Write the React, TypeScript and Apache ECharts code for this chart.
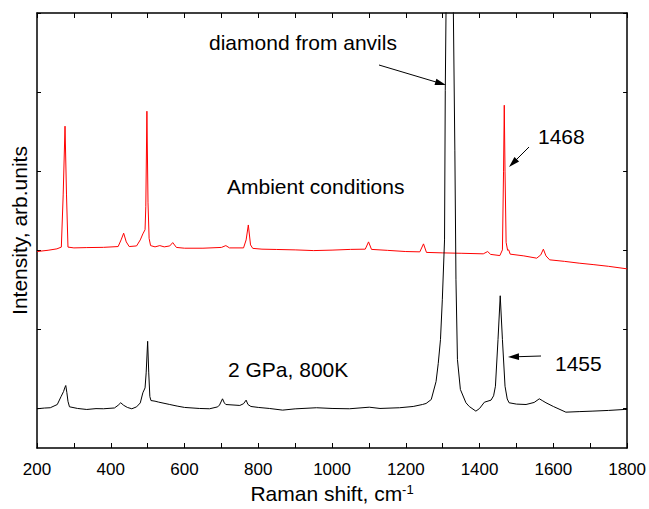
import React, { useEffect, useRef } from "react";
import * as echarts from "echarts";

// Raman shift (cm^-1) and intensity (arb. units, 1000 per y tick) — ambient conditions (red)
const ambientShift = [200, 230, 254, 266, 271, 276, 280, 284, 300, 335, 380, 420, 428, 435, 442, 450, 470, 480, 487, 493, 495, 498, 501, 504, 508, 520, 533, 545, 560, 568, 578, 600, 650, 700, 712, 722, 760, 767, 773, 779, 785, 810, 850, 900, 950, 1000, 1050, 1090, 1099, 1107, 1150, 1200, 1238, 1248, 1256, 1300, 1350, 1410, 1422, 1430, 1455, 1462, 1465, 1467, 1469, 1472, 1476, 1479, 1483, 1520, 1555, 1566, 1573, 1580, 1590, 1630, 1670, 1710, 1750, 1800];
const ambientIntensity = [1984, 2000, 2018, 2040, 2700, 3569, 2700, 2040, 2030, 2034, 2037, 2047, 2131, 2216, 2106, 2047, 2055, 2131, 2207, 2260, 2550, 3758, 2600, 2150, 2059, 2043, 2059, 2043, 2055, 2097, 2036, 2026, 2026, 2036, 2059, 2030, 2030, 2131, 2320, 2068, 2024, 2014, 2010, 2005, 1996, 2002, 2011, 2014, 2106, 2011, 1999, 1984, 1980, 2081, 1973, 1967, 1962, 1955, 1984, 1948, 1933, 2005, 3000, 3834, 3000, 2100, 2000, 2005, 1951, 1929, 1900, 1942, 2014, 1929, 1879, 1860, 1837, 1818, 1797, 1765];

// 2 GPa, 800 K (black)
const highShift = [200, 220, 236, 255, 265, 272, 276, 278, 281, 284, 288, 310, 335, 360, 380, 410, 420, 427, 435, 445, 457, 470, 480, 487, 493, 496, 500, 503, 506, 509, 520, 530, 560, 580, 600, 640, 668, 690, 695, 703, 708, 712, 750, 760, 767, 772, 780, 800, 830, 866, 900, 958, 1000, 1047, 1101, 1130, 1183, 1220, 1245, 1255, 1269, 1282, 1288, 1294, 1299, 1305, 1307, 1309, 1319, 1329, 1333, 1336, 1340, 1348, 1363, 1372, 1390, 1400, 1413, 1431, 1438, 1443, 1450, 1456, 1462, 1469, 1475, 1480, 1500, 1526, 1548, 1562, 1570, 1580, 1600, 1634, 1670, 1705, 1750, 1792, 1800];
const highIntensity = [-4, 5, 9, 50, 148, 214, 270, 290, 200, 90, 21, 0, -13, -2, -4, 6, 40, 72, 40, 13, -4, 20, 70, 198, 260, 450, 849, 450, 150, 100, 92, 80, 50, 30, 13, 0, -4, 20, 44, 122, 70, 50, 38, 60, 105, 50, 25, 13, 0, -21, -5, 9, 0, -4, 16, 0, 9, 25, 50, 63, 113, 340, 570, 870, 1374, 2131, 4023, 4994, 15000, 4994, 3266, 1627, 618, 240, 72, 25, -34, 0, 79, 105, 160, 281, 870, 1425, 870, 281, 120, 72, 55, 50, 76, 122, 100, 72, 25, -47, -40, -34, -25, -13, -13];

const xLabelTicks = [200, 400, 600, 800, 1000, 1200, 1400, 1600, 1800];
const yTickValues = [0, 1000, 2000, 3000, 4000, 5000];

const FONT = "'Liberation Sans', Arial, Helvetica, sans-serif";

function arrow(x1: number, y1: number, x2: number, y2: number) {
  const dx = x2 - x1, dy = y2 - y1;
  const len = Math.hypot(dx, dy);
  const ux = dx / len, uy = dy / len;
  const nx = -uy, ny = ux;
  const L = 11, W = 3.3;
  const bx = x2 - L * ux, by = y2 - L * uy;
  return [
    { type: "line", shape: { x1, y1, x2: bx + ux * 2, y2: by + uy * 2 }, style: { stroke: "#000", lineWidth: 1 }, silent: true },
    { type: "polygon", shape: { points: [[x2, y2], [bx + W * nx, by + W * ny], [bx - W * nx, by - W * ny]] }, style: { fill: "#000" }, silent: true },
  ];
}

function label(text: string, x: number, y: number) {
  return {
    type: "text",
    x,
    y,
    silent: true,
    style: {
      text,
      fill: "#000",
      fontSize: 21,
      fontFamily: FONT,
      align: "left",
      verticalAlign: "middle",
      textAlign: "left",
      textVerticalAlign: "middle",
    },
  };
}

export default function App() {
  const ref = useRef<HTMLDivElement>(null);
  useEffect(() => {
    document.body.style.margin = "0";
    if (!ref.current) return;
    const chart = echarts.init(ref.current, undefined, { renderer: "svg" });
    const axisLine = { show: true, onZero: false, lineStyle: { color: "#000", width: 1.5 } };
    const xBase = {
      type: "value",
      min: 200,
      max: 1800,
      interval: 200,
      axisLine,
      axisTick: { show: true, inside: true, length: 5, lineStyle: { color: "#000", width: 1 } },
      minorTick: { show: true, splitNumber: 2, length: 5, lineStyle: { color: "#000", width: 1 } },
      splitLine: { show: false },
      minorSplitLine: { show: false },
    };
    const yBase = {
      type: "value",
      min: -500,
      max: 5000,
      axisLine,
      axisTick: { show: true, inside: true, length: 4, customValues: yTickValues, lineStyle: { color: "#000", width: 1 } },
      axisLabel: { show: false },
      splitLine: { show: false },
    };
    chart.setOption({
      animation: false,
      backgroundColor: "#fff",
      grid: { left: 37, right: 21, top: 13, bottom: 60, containLabel: false },
      xAxis: [
        {
          ...xBase,
          position: "bottom",
          axisLabel: {
            color: "#000",
            fontSize: 17,
            fontFamily: FONT,
            margin: 13,
            formatter: (v: number) => (xLabelTicks.includes(v) ? String(v) : ""),
          },
          name: "{a|Raman shift, cm}{b|-1}",
          nameLocation: "middle",
          nameGap: 35,
          nameTextStyle: {
            color: "#000",
            fontSize: 21,
            fontFamily: FONT,
            rich: {
              a: { fontSize: 21, fontFamily: FONT, color: "#000" },
              b: { fontSize: 13, fontFamily: FONT, color: "#000", verticalAlign: "top" },
            },
          },
        },
        { ...xBase, position: "top", axisLabel: { show: false } },
      ],
      yAxis: [
        {
          ...yBase,
          position: "left",
          name: "Intensity, arb.units",
          nameLocation: "middle",
          nameGap: 7,
          nameTextStyle: { color: "#000", fontSize: 21, fontFamily: FONT },
        },
        { ...yBase, position: "right" },
      ],
      series: [
        {
          type: "line",
          name: "Ambient conditions",
          xAxisIndex: 0,
          yAxisIndex: 0,
          data: ambientShift.map((x, i) => [x, ambientIntensity[i]]),
          showSymbol: false,
          symbol: "none",
          clip: true,
          lineStyle: { color: "#ff0000", width: 1 },
        },
        {
          type: "line",
          name: "2 GPa, 800K",
          xAxisIndex: 0,
          yAxisIndex: 0,
          data: highShift.map((x, i) => [x, highIntensity[i]]),
          showSymbol: false,
          symbol: "none",
          clip: true,
          lineStyle: { color: "#000", width: 1 },
        },
      ],
      graphic: [
        label("diamond from anvils", 209, 42),
        label("Ambient conditions", 227, 186),
        label("1468", 538, 136),
        label("1455", 555, 363),
        label("2 GPa, 800K", 228, 369),
        ...arrow(379, 65, 446, 85),
        ...arrow(529, 147, 509, 167),
        ...arrow(541, 356, 508, 357),
      ],
    });
    return () => chart.dispose();
  }, []);
  return <div ref={ref} style={{ width: 649, height: 509 }} />;
}
